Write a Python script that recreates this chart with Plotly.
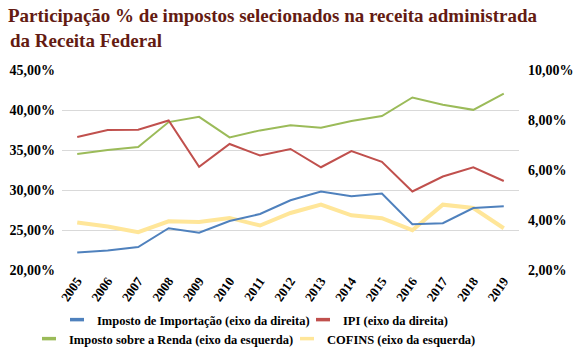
import plotly.graph_objects as go

years = [str(y) for y in range(2005, 2020)]
imp_importacao = [2.70, 2.78, 2.92, 3.67, 3.49, 3.96, 4.24, 4.79, 5.14, 4.95, 5.06, 3.83, 3.87, 4.48, 4.55]
ipi = [7.32, 7.60, 7.61, 7.98, 6.13, 7.04, 6.58, 6.84, 6.11, 6.76, 6.33, 5.14, 5.74, 6.11, 5.56]
imp_renda = [34.51, 35.01, 35.38, 38.49, 39.15, 36.58, 37.45, 38.08, 37.79, 38.62, 39.24, 41.56, 40.65, 40.02, 42.06]
cofins = [25.93, 25.43, 24.73, 26.09, 26.01, 26.51, 25.56, 27.13, 28.17, 26.84, 26.47, 24.98, 28.17, 27.75, 25.22]

names = ["Imposto de Importação (eixo da direita)", "IPI (eixo da direita)",
         "Imposto sobre a Renda (eixo da esquerda)", "COFINS (eixo da esquerda)"]
colors = ["#4F81BD", "#C0504D", "#9BBB59", "#FFE699"]

FONT = "Liberation Serif, Tinos, Times New Roman, serif"
W, H = 581, 354
L, R, T, B = 62, 62, 70, 84
PH = H - T - B
PW = W - L - R

fig = go.Figure()
fig.add_trace(go.Scatter(x=years, y=imp_renda, mode="lines", line=dict(color=colors[2], width=2),
                         yaxis="y", showlegend=False, name=names[2]))
fig.add_trace(go.Scatter(x=years, y=cofins, mode="lines", line=dict(color=colors[3], width=4),
                         yaxis="y", showlegend=False, name=names[3]))
fig.add_trace(go.Scatter(x=years, y=imp_importacao, mode="lines", line=dict(color=colors[0], width=2),
                         yaxis="y2", showlegend=False, name=names[0]))
fig.add_trace(go.Scatter(x=years, y=ipi, mode="lines", line=dict(color=colors[1], width=2),
                         yaxis="y2", showlegend=False, name=names[1]))

# legend-only entries (short line symbols), one legend per entry for exact placement
legend_ids = ["legend", "legend2", "legend3", "legend4"]
for i in range(4):
    fig.add_trace(go.Scatter(x=[None], y=[None], mode="markers", name=names[i], legend=legend_ids[i],
                             marker=dict(symbol="line-ew", size=10,
                                         line=dict(color=colors[i], width=3.5)),
                             showlegend=True))

legend_common = dict(orientation="h", xanchor="left", yanchor="middle",
                     xref="container", yref="container",
                     font=dict(family=FONT, size=12.5, color="#000000", weight="bold"),
                     bgcolor="rgba(0,0,0,0)", itemwidth=30, borderwidth=0)

# text start x and row centre y (pixels) as measured on the reference
text_x = [95, 341, 67, 325]
row_y = [320, 320, 339, 339]
legends = {}
for i, lid in enumerate(legend_ids):
    legends[lid] = dict(**legend_common, x=(text_x[i] - 38) / W, y=1 - row_y[i] / H)

tf = dict(family=FONT, size=14, color="#000000", weight="bold")

fig.update_layout(
    width=W, height=H,
    margin=dict(l=L, r=R, t=T, b=B, pad=0, autoexpand=False),
    paper_bgcolor="white", plot_bgcolor="white",
    separators=",.",
    xaxis=dict(type="category", range=[-0.5, 14.5], showgrid=False, showline=False,
               zeroline=False, ticks="", tickangle=-55, automargin=False,
               tickfont=dict(family=FONT, size=13, color="#000000", weight="bold")),
    yaxis=dict(range=[20, 45], dtick=5, tick0=20, tickformat=".2f", ticksuffix="%",
               showgrid=True, gridcolor="#D9D9D9", gridwidth=1, zeroline=False,
               showline=False, ticks="", ticklabelstandoff=6, automargin=False,
               tickfont=tf),
    yaxis2=dict(range=[2, 10], dtick=2, tick0=2, tickformat=".2f", ticksuffix="%",
                overlaying="y", side="right", showgrid=False, zeroline=False,
                showline=False, ticks="", ticklabelstandoff=8, automargin=False,
                tickfont=tf),
    title=dict(text="Participação % de impostos selecionados na receita administrada",
               x=8 / W, xanchor="left", xref="container",
               y=1 - 9 / H, yanchor="top", yref="container",
               font=dict(family=FONT, size=19, color="#641B12", weight="bold")),
    annotations=[dict(text="da Receita Federal", xref="paper", yref="paper",
                      x=(8 - L) / PW, xanchor="left",
                      y=1 + (T - 28) / PH, yanchor="top", showarrow=False,
                      font=dict(family=FONT, size=19, color="#641B12", weight="bold"))],
    **legends,
)

fig.write_html("out.html")
